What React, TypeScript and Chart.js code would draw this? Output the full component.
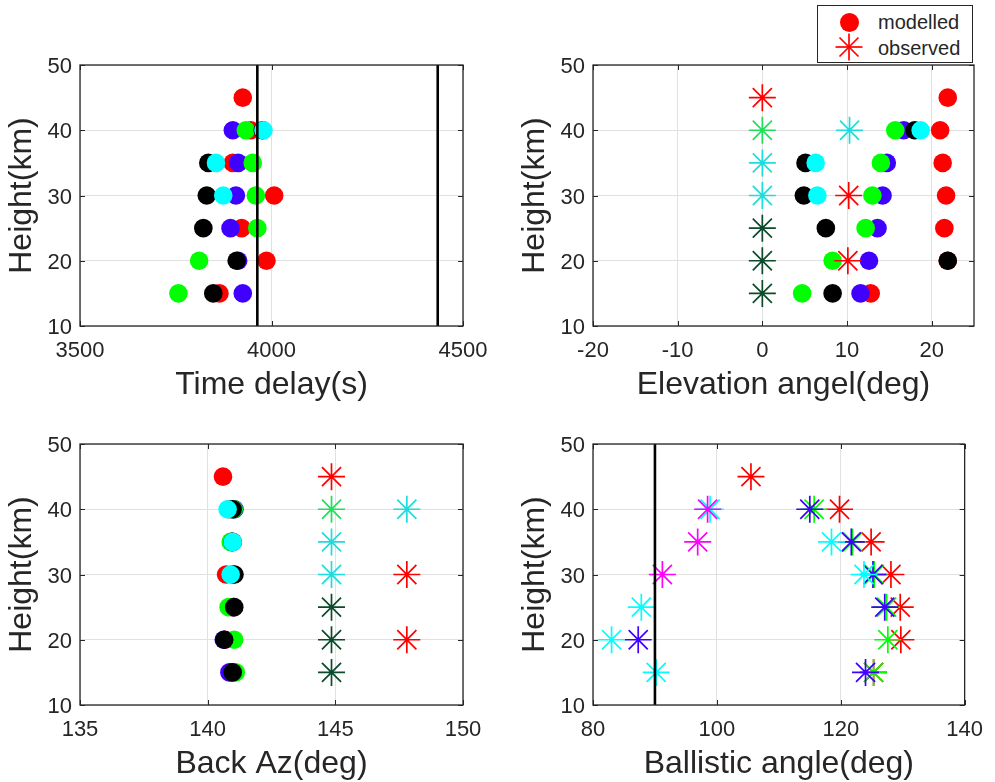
import React, { useEffect, useRef } from "react";
import { Chart, registerables } from "chart.js";

Chart.register(...registerables);

const FONT = "'Liberation Sans', Arial, Helvetica, sans-serif";
const TEXT = "#262626";
const GRID = "#e1e1e1";

// Common heights (km)
const heights = [15, 20, 25, 30, 35, 40, 45];
const heightTicks = [10, 20, 30, 40, 50];

// Colours
const RED = "#ff0000";
const BLUE = "#4000ff";
const GREEN = "#00ff00";
const BLACK = "#000000";
const CYAN = "#00ffff";
const MAGENTA = "#ff00ff";
const OBS_GREEN = "#1fe05a";
const OBS_CYAN = "#1fdcdc";
const OBS_DARK = "#0b4a2a";

// ---- Panel 1: Time delay (s), modelled ----
const timeTicks = [3500, 4000, 4500];
const timeRed = [3864, 3987, 3922, 4007, 3899, 3946, 3925];
const timeBlue = [3925, 3913, 3893, 3907, 3913, 3899, null];
const timeGreen = [3757, 3811, 3963, 3959, 3951, 3933, null];
const timeBlack = [3848, 3909, 3822, 3831, 3835, 3977, null];
const timeCyan = [null, null, null, 3874, 3855, 3979, null];
const timeLines = [3963, 4434];

// ---- Panel 2: Elevation angle (deg) ----
const elevTicks = [-20, -10, 0, 10, 20];
const elevRed = [12.8, 21.9, 21.5, 21.7, 21.3, 21.0, 21.9];
const elevBlue = [11.6, 12.6, 13.6, 14.2, 14.7, 16.7, null];
const elevGreen = [4.7, 8.3, 12.2, 13.0, 14.0, 15.7, null];
const elevBlack = [8.3, 21.9, 7.5, 4.9, 5.1, 18.0, null];
const elevCyan = [null, null, null, 6.5, 6.3, 18.7, null];
const elevObsRed = [null, 10.1, null, 10.2, null, null, 0];
const elevObsGreen = [null, null, null, null, null, 0, null];
const elevObsCyan = [null, null, null, 0, 0, 10.3, null];
const elevObsDark = [0, 0, 0, null, null, null, null];

// ---- Panel 3: Back azimuth (deg) ----
const azTicks = [135, 140, 145, 150];
const azRed = [140.95, 140.68, 141.0, 140.72, 140.95, 140.85, 140.6];
const azBlue = [140.85, 140.63, 141.0, 141.0, 140.95, 141.05, null];
const azGreen = [141.1, 141.04, 140.82, 140.95, 140.9, 141.02, null];
const azBlack = [140.98, 140.65, 141.04, 141.05, 140.98, 140.98, null];
const azCyan = [null, null, null, 140.9, 140.98, 140.78, null];
const azObsRed = [null, 147.8, null, 147.8, null, null, 144.85];
const azObsGreen = [null, null, null, null, null, 144.85, null];
const azObsCyan = [null, null, null, 144.85, 144.85, 147.8, null];
const azObsDark = [144.85, 144.85, 144.85, null, null, null, null];

// ---- Panel 4: Ballistic angle (deg) ----
const ballTicks = [80, 100, 120, 140];
const ballRed = [125.3, 129.7, 129.6, 128.1, 124.9, 119.8, 105.5];
const ballGreen = [125.3, 127.6, 127.4, 125.4, 121.9, 115.7, null];
const ballBlue = [124.0, 87.3, 127.1, 125.2, 121.7, 115.0, null];
const ballCyan = [90.2, 83.0, 87.8, 123.75, 118.5, 98.9, null];
const ballMagenta = [null, null, null, 91.2, 96.9, 98.5, null];
const ballLines = [90];

type Vals = (number | null)[];

function pts(values: Vals) {
  const out: { x: number; y: number }[] = [];
  heights.forEach((h, i) => {
    const v = values[i];
    if (v !== null && v !== undefined) out.push({ x: v, y: h });
  });
  return out;
}

function circles(values: Vals, color: string) {
  return {
    data: pts(values),
    pointStyle: "circle",
    pointRadius: 9.3,
    pointBackgroundColor: color,
    pointBorderWidth: 0,
    pointBorderColor: color,
    showLine: false,
  };
}

function stars(values: Vals, color: string) {
  return {
    data: pts(values),
    pointStyle: "star",
    pointRadius: 13.5,
    pointBackgroundColor: "rgba(0,0,0,0)",
    pointBorderColor: color,
    pointBorderWidth: 1.7,
    showLine: false,
  };
}

function vlines(values: number[]) {
  const lo = heightTicks[0];
  const hi = heightTicks[heightTicks.length - 1];
  return values.map((v) => ({
    data: [
      { x: v, y: lo },
      { x: v, y: hi },
    ],
    showLine: true,
    borderColor: BLACK,
    borderWidth: 2.6,
    pointRadius: 0,
  }));
}

const boxPlugin = {
  id: "matlabBox",
  afterDatasetsDraw(chart: any) {
    const { ctx } = chart;
    const { left, right, top, bottom } = chart.chartArea;
    const xs = chart.scales.x;
    const ys = chart.scales.y;
    ctx.save();
    ctx.strokeStyle = TEXT;
    ctx.lineWidth = 1;
    ctx.beginPath();
    xs.ticks.forEach((t: any) => {
      const p = Math.round(xs.getPixelForValue(t.value)) + 0.5;
      ctx.moveTo(p, bottom);
      ctx.lineTo(p, bottom - 5);
      ctx.moveTo(p, top);
      ctx.lineTo(p, top + 5);
    });
    ys.ticks.forEach((t: any) => {
      const p = Math.round(ys.getPixelForValue(t.value)) + 0.5;
      ctx.moveTo(left, p);
      ctx.lineTo(left + 5, p);
      ctx.moveTo(right, p);
      ctx.lineTo(right - 5, p);
    });
    ctx.stroke();
    ctx.lineWidth = 1.3;
    ctx.strokeRect(left, top, right - left, bottom - top);
    ctx.restore();
  },
};

type PanelCfg = {
  left: number;
  top: number;
  w: number;
  h: number;
  padTop: number;
  padRight: number;
  xAxisH: number;
  xMin: number;
  xMax: number;
  xTicks: number[];
  xTitle: string;
  titlePadBottom: number;
  datasets: any[]; // top-most first
};

function Panel({ cfg }: { cfg: PanelCfg }) {
  const ref = useRef<HTMLCanvasElement>(null);
  useEffect(() => {
    const tickFont = { family: FONT, size: 22 };
    const titleFont = { family: FONT, size: 32, lineHeight: 1 };
    const chart = new Chart(ref.current as HTMLCanvasElement, {
      type: "scatter",
      data: { datasets: cfg.datasets },
      options: {
        animation: false,
        responsive: false,
        maintainAspectRatio: false,
        devicePixelRatio: 1,
        events: [],
        layout: { padding: { left: 0, top: cfg.padTop, right: cfg.padRight, bottom: 0 } },
        plugins: { legend: { display: false }, tooltip: { enabled: false } },
        scales: {
          x: {
            type: "linear",
            min: cfg.xMin,
            max: cfg.xMax,
            afterBuildTicks: (s: any) => {
              s.ticks = cfg.xTicks.map((v) => ({ value: v }));
            },
            afterFit: (s: any) => {
              s.height = cfg.xAxisH;
            },
            grid: { color: GRID, lineWidth: 1, drawTicks: false },
            border: { display: false },
            ticks: {
              font: tickFont,
              color: TEXT,
              padding: 12,
              maxRotation: 0,
              autoSkip: false,
              callback: (v: any) => String(v),
            },
            title: {
              display: true,
              text: cfg.xTitle,
              font: titleFont,
              color: TEXT,
              padding: { top: 0, bottom: cfg.titlePadBottom },
            },
          },
          y: {
            type: "linear",
            min: heightTicks[0],
            max: heightTicks[heightTicks.length - 1],
            afterBuildTicks: (s: any) => {
              s.ticks = heightTicks.map((v) => ({ value: v }));
            },
            afterFit: (s: any) => {
              s.width = 80;
            },
            grid: { color: GRID, lineWidth: 1, drawTicks: false },
            border: { display: false },
            ticks: {
              font: tickFont,
              color: TEXT,
              padding: 8,
              autoSkip: false,
              labelOffset: 2,
              callback: (v: any) => String(v),
            },
            title: {
              display: true,
              text: "Height(km)",
              font: titleFont,
              color: TEXT,
              padding: { top: 6, bottom: 0 },
            },
          },
        },
      } as any,
      plugins: [boxPlugin],
    });
    return () => chart.destroy();
  }, []);
  return (
    <canvas
      ref={ref}
      width={cfg.w}
      height={cfg.h}
      style={{ position: "absolute", left: cfg.left, top: cfg.top, width: cfg.w, height: cfg.h }}
    />
  );
}

const panels: PanelCfg[] = [
  {
    left: 0, top: 0, w: 513, h: 405, padTop: 65, padRight: 50, xAxisH: 79,
    xMin: 3500, xMax: 4500, xTicks: timeTicks, xTitle: "Time delay(s)", titlePadBottom: 4,
    datasets: [
      ...vlines(timeLines),
      circles(timeCyan, CYAN),
      circles(timeBlack, BLACK),
      circles(timeGreen, GREEN),
      circles(timeBlue, BLUE),
      circles(timeRed, RED),
    ],
  },
  {
    left: 513, top: 0, w: 482, h: 405, padTop: 65, padRight: 21, xAxisH: 79,
    xMin: -20, xMax: 25, xTicks: elevTicks, xTitle: "Elevation angel(deg)", titlePadBottom: 4,
    datasets: [
      stars(elevObsDark, OBS_DARK),
      stars(elevObsCyan, OBS_CYAN),
      stars(elevObsGreen, OBS_GREEN),
      stars(elevObsRed, RED),
      circles(elevCyan, CYAN),
      circles(elevBlack, BLACK),
      circles(elevGreen, GREEN),
      circles(elevBlue, BLUE),
      circles(elevRed, RED),
    ],
  },
  {
    left: 0, top: 405, w: 513, h: 377, padTop: 39, padRight: 50, xAxisH: 77,
    xMin: 135, xMax: 150, xTicks: azTicks, xTitle: "Back Az(deg)", titlePadBottom: 2,
    datasets: [
      stars(azObsDark, OBS_DARK),
      stars(azObsCyan, OBS_CYAN),
      stars(azObsGreen, OBS_GREEN),
      stars(azObsRed, RED),
      circles(azCyan, CYAN),
      circles(azBlack, BLACK),
      circles(azGreen, GREEN),
      circles(azBlue, BLUE),
      circles(azRed, RED),
    ],
  },
  {
    left: 513, top: 405, w: 482, h: 377, padTop: 39, padRight: 21, xAxisH: 77,
    xMin: 80, xMax: 140, xTicks: ballTicks, xTitle: "Ballistic angle(deg)", titlePadBottom: 2,
    datasets: [
      ...vlines(ballLines),
      stars(ballMagenta, MAGENTA),
      stars(ballCyan, CYAN),
      stars(ballBlue, BLUE),
      stars(ballGreen, GREEN),
      stars(ballRed, RED),
    ],
  },
];

function Legend() {
  const textStyle: React.CSSProperties = {
    position: "absolute",
    left: 60,
    fontFamily: FONT,
    fontSize: 20,
    lineHeight: "20px",
    color: TEXT,
    whiteSpace: "nowrap",
  };
  return (
    <div
      style={{
        position: "absolute",
        left: 817,
        top: 5,
        width: 154,
        height: 56,
        border: `1px solid ${TEXT}`,
        background: "#ffffff",
      }}
    >
      <div
        style={{
          position: "absolute",
          left: 22,
          top: 7,
          width: 19,
          height: 19,
          borderRadius: "50%",
          background: RED,
        }}
      />
      <svg style={{ position: "absolute", left: 17, top: 27 }} width={28} height={28} viewBox="0 0 28 28">
        <g stroke={RED} strokeWidth={1.7}>
          <line x1={14} y1={0.5} x2={14} y2={27.5} />
          <line x1={0.5} y1={14} x2={27.5} y2={14} />
          <line x1={4.5} y1={4.5} x2={23.5} y2={23.5} />
          <line x1={23.5} y1={4.5} x2={4.5} y2={23.5} />
        </g>
      </svg>
      <span style={{ ...textStyle, top: 6 }}>modelled</span>
      <span style={{ ...textStyle, top: 32 }}>observed</span>
    </div>
  );
}

export default function App() {
  return (
    <div
      style={{
        position: "absolute",
        left: 0,
        top: 0,
        width: 995,
        height: 782,
        background: "#ffffff",
        overflow: "hidden",
      }}
    >
      {panels.map((p, i) => (
        <Panel key={i} cfg={p} />
      ))}
      <Legend />
    </div>
  );
}
